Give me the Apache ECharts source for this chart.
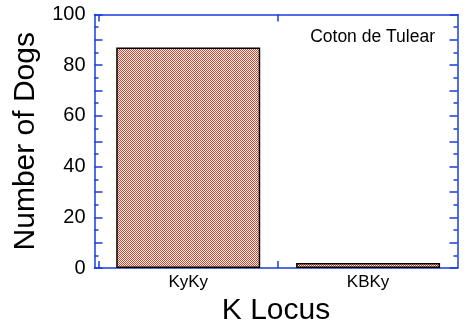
<!DOCTYPE html>
<html><head><meta charset="utf-8">
<script src="https://cdn.jsdelivr.net/npm/echarts@6/dist/echarts.min.js"></script>
<style>html,body{margin:0;padding:0;background:#fff}#c{width:465px;height:325px}</style>
</head><body><div id="c"></div>
<script>
const categories = ['KyKy', 'KBKy'];
const dogCounts = [87, 2];
const yTickLabels = [0, 20, 40, 60, 80, 100];
const xBoundaries = [-0.5, 0.5, 1.5];
const titleText = 'Coton de Tulear';
const xName = 'K Locus';
const yName = 'Number of Dogs';

const FONT = 'Liberation Sans, Arial, Helvetica, sans-serif';
const BLUE = '#1a3cdc';
const RED = '#e23c23';

const pc = document.createElement('canvas');
pc.width = 2; pc.height = 2;
const pctx = pc.getContext('2d');
pctx.fillStyle = '#ffffff'; pctx.fillRect(0, 0, 2, 2);
pctx.fillStyle = RED; pctx.fillRect(0, 0, 1, 1); pctx.fillRect(1, 1, 1, 1);

const axisLine = { show: true, onZero: false, lineStyle: { color: BLUE, width: 1.5 } };
const xCommon = {
  type: 'value', min: -0.521, max: 1.497,
  axisLine: axisLine,
  splitLine: { show: false },
  axisTick: { show: true, inside: true, length: 7, customValues: xBoundaries, lineStyle: { color: BLUE, width: 1.5 } }
};
const yCommon = {
  type: 'value', min: 0, max: 100, interval: 10,
  axisLine: axisLine,
  splitLine: { show: false },
  axisTick: { show: true, inside: true, length: 8, lineStyle: { color: BLUE, width: 1.5 } },
  minorTick: { show: true, splitNumber: 2, length: 4, lineStyle: { color: BLUE, width: 1.5 } }
};

const chart = echarts.init(document.getElementById('c'), null, { renderer: 'canvas' });
chart.setOption({
  animation: false,
  backgroundColor: '#fff',
  title: {
    text: titleText, right: 30, top: 28, padding: 0,
    textStyle: { fontFamily: FONT, fontSize: 17.5, fontWeight: 'normal', color: '#000' }
  },
  grid: { left: 94.5, right: 7.5, top: 14.5, bottom: 57, containLabel: false, outerBoundsMode: 'none' },
  xAxis: [
    Object.assign({}, xCommon, {
      position: 'bottom',
      name: xName, nameLocation: 'middle', nameGap: 27,
      nameTextStyle: { fontFamily: FONT, fontSize: 30, color: '#000' },
      axisLabel: {
        show: true, customValues: categories.map((c, i) => i), margin: 6,
        fontFamily: FONT, fontSize: 17, color: '#000',
        formatter: v => categories[Math.round(v)]
      }
    }),
    Object.assign({}, xCommon, { position: 'top', axisLabel: { show: false } })
  ],
  yAxis: [
    Object.assign({}, yCommon, {
      position: 'left',
      name: yName, nameLocation: 'middle', nameGap: 54,
      nameTextStyle: { fontFamily: FONT, fontSize: 30, color: '#000' },
      axisLabel: {
        show: true, margin: 9, fontFamily: FONT, fontSize: 20, color: '#000',
        formatter: v => (yTickLabels.indexOf(v) >= 0 ? String(v) : '')
      }
    }),
    Object.assign({}, yCommon, { position: 'right', axisLabel: { show: false } })
  ],
  series: [{
    type: 'bar', xAxisIndex: 0, yAxisIndex: 0, barWidth: 144,
    data: categories.map((c, i) => [i, dogCounts[i]]),
    itemStyle: { color: { image: pc, repeat: 'repeat' }, borderColor: '#000', borderWidth: 1.5 }
  }]
});
</script></body></html>
